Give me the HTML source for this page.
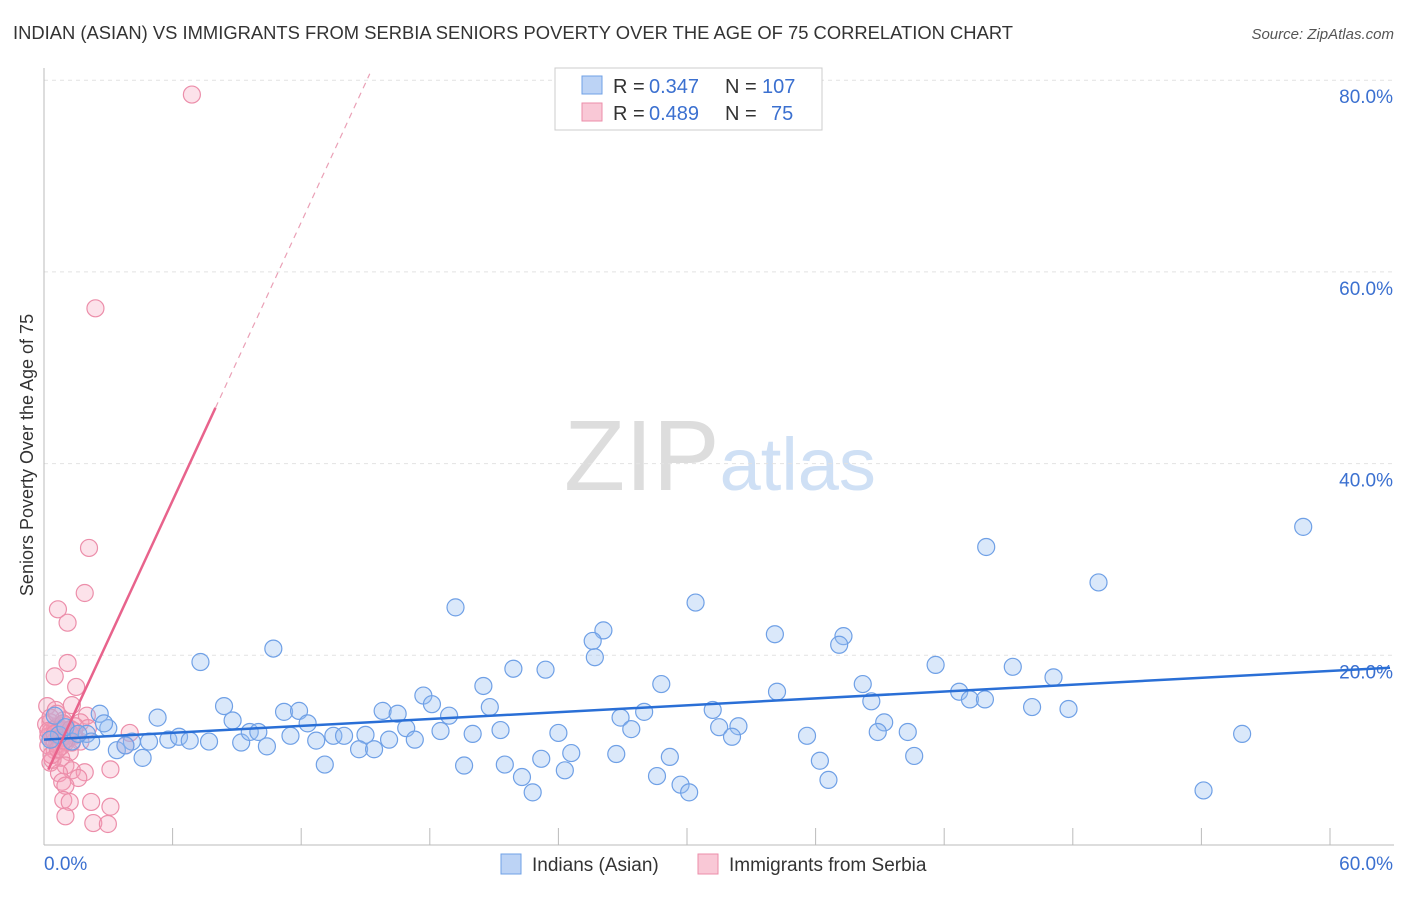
<!DOCTYPE html>
<html><head><meta charset="utf-8"><style>
body{margin:0;background:#fff;font-family:"Liberation Sans",sans-serif;}
svg text{font-family:"Liberation Sans",sans-serif;}
</style></head><body>
<svg id="chart" width="1406" height="892" xmlns="http://www.w3.org/2000/svg">
<text x="13" y="39" font-size="18" fill="#333" textLength="1000" lengthAdjust="spacingAndGlyphs">INDIAN (ASIAN) VS IMMIGRANTS FROM SERBIA SENIORS POVERTY OVER THE AGE OF 75 CORRELATION CHART</text>
<text x="1394" y="39" font-size="15" fill="#555" font-style="italic" text-anchor="end">Source: ZipAtlas.com</text>
<text x="720" y="490" font-size="100" text-anchor="middle" fill="#ddd" font-family="Liberation Serif"><tspan>ZIP</tspan><tspan fill="#cfe0f5" font-family="Liberation Sans" font-size="74">atlas</tspan></text>
<text transform="translate(33,455) rotate(-90)" font-size="18" fill="#333" text-anchor="middle">Seniors Poverty Over the Age of 75</text>
<g id="grid"></g><g id="marks"></g>
<g>
<rect x="555" y="68" width="267" height="62" fill="#fff" stroke="#ccc"/>
<rect x="582" y="76" width="20" height="18" fill="#bcd3f5" stroke="#6fa0e6"/>
<rect x="582" y="103" width="20" height="18" fill="#f9c8d6" stroke="#ec8eaa"/>
<text x="613" y="93" font-size="20" fill="#333">R =</text>
<text x="649" y="93" font-size="20" fill="#3b70d0">0.347</text>
<text x="725" y="93" font-size="20" fill="#333">N =</text>
<text x="762" y="93" font-size="20" fill="#3b70d0">107</text>
<text x="613" y="120" font-size="20" fill="#333">R =</text>
<text x="649" y="120" font-size="20" fill="#3b70d0">0.489</text>
<text x="725" y="120" font-size="20" fill="#333">N =</text>
<text x="771" y="120" font-size="20" fill="#3b70d0">75</text>
</g>
<g>
<rect x="501" y="854" width="20" height="20" fill="#bcd3f5" stroke="#6fa0e6"/>
<text x="532" y="871" font-size="19" fill="#333">Indians (Asian)</text>
<rect x="698" y="854" width="20" height="20" fill="#f9c8d6" stroke="#ec8eaa"/>
<text x="729" y="871" font-size="19" fill="#333">Immigrants from Serbia</text>
</g>
</svg>
<script>
const xTicks=[0,6,12,18,24,30,36,42,48,54,60];
const yTicks=[20,40,60,80];
const blueX=[58.75,43.96,49.2,19.2,30.4,26.1,25.6,25.7,34.1,37.3,37.1,10.7,7.3,21.9,23.4,41.6,45.2,47.1,28.8,20.5,38.2,34.2,42.7,43.2,43.9,38.6,17.7,18.1,46.1,47.8,31.2,20.8,15.8,16.5,11.2,11.9,8.4,2.6,5.3,8.8,12.3,18.9,26.9,28.0,31.5,32.4,39.2,40.3,55.9,20.0,21.3,24.0,27.4,32.1,38.9,35.6,3.0,4.1,4.9,5.8,6.3,6.8,7.7,9.2,9.6,10.0,10.4,11.5,12.7,13.5,14.0,15.0,14.7,15.4,16.1,16.9,17.3,18.5,2.0,2.2,1.3,3.4,3.8,4.6,23.2,24.6,26.7,29.2,36.2,40.6,13.1,19.6,21.5,22.3,24.3,28.6,29.7,30.1,36.6,22.8,54.1,0.7,0.5,1.0,0.3,1.6,2.8];
const blueY=[33.4,31.3,27.6,25.0,25.5,22.6,21.5,19.8,22.2,22.0,21.1,20.7,19.3,18.6,18.5,19.0,18.8,17.7,17.0,16.8,17.0,16.2,16.2,15.4,15.4,15.2,15.8,14.9,14.6,14.4,14.3,14.6,14.2,13.9,14.1,14.2,14.7,13.9,13.5,13.2,12.9,13.7,13.5,14.1,12.5,12.6,13.0,12.0,11.8,11.8,12.2,11.9,12.3,11.5,12.0,11.6,12.4,11.0,11.0,11.2,11.5,11.1,11.0,10.9,12.0,12.0,10.5,11.6,11.1,11.6,11.6,11.7,10.2,10.2,11.2,12.4,11.2,12.1,11.8,11.0,11.0,10.1,10.6,9.3,9.2,9.8,9.7,9.4,9.0,9.5,8.6,8.5,8.6,7.3,8.0,7.4,6.5,5.7,7.0,5.7,5.9,11.7,13.7,12.5,11.2,11.8,12.9];
const pinkX=[6.9,2.4,2.1,1.9,0.65,1.1,1.1,0.5,1.5,0.15,0.55,1.3,2.0,0.9,0.3,1.7,0.75,1.1,0.4,1.4,0.65,1.0,0.2,1.7,0.5,1.2,0.8,0.3,1.0,1.3,0.7,1.9,1.6,0.85,3.1,3.8,4.0,0.4,1.0,0.9,1.2,2.2,3.1,1.0,2.3,2.98,0.1,0.6,1.45,0.5,2.05,0.84,0.3,0.6,0.9,1.2,0.4,0.7,1.0,0.2,0.5,0.8,1.1,1.4,0.3,0.6,0.9,0.2,0.5,0.8,1.3,0.35,0.65,0.95,1.25];
const pinkY=[78.5,56.2,31.2,26.5,24.8,23.4,19.2,17.8,16.7,14.7,14.3,14.8,13.7,13.2,13.0,13.0,12.4,12.2,11.8,11.6,11.2,10.9,10.6,11.0,10.1,9.9,9.3,8.8,8.5,8.0,7.7,7.8,7.2,6.8,8.1,10.6,11.9,9.1,6.4,4.9,4.7,4.7,4.2,3.2,2.5,2.4,12.8,10.7,12.6,12.3,12.4,11.7,12.0,12.5,11.4,11.9,11.3,12.2,12.7,11.5,11.0,10.5,11.3,12.1,13.5,13.9,12.9,12.1,11.8,11.4,10.9,9.6,10.2,11.1,12.3];
const blueTrend=[11.2,0.1195];
const pinkTrend=[7.1,4.84];
const pinkSolidEnd=8.0, pinkDashEnd=15.2;
const X=v=>44+v*(1286/60), Y=v=>847-v*9.585;
const NS="http://www.w3.org/2000/svg";
function mk(tag,attrs,parent){const e=document.createElementNS(NS,tag);for(const k in attrs)e.setAttribute(k,attrs[k]);parent.appendChild(e);return e;}
const grid=document.getElementById('grid'), marks=document.getElementById('marks');
yTicks.forEach(t=>{
  const l=mk('line',{x1:44,x2:1394,y1:Y(t),y2:Y(t),stroke:'#e2e2e2','stroke-dasharray':'4,4'},grid);
  
  
  const tx=mk('text',{x:1393,y:Y(t)+23,'font-size':19,fill:'#3b70d0','text-anchor':'end'},grid);
  tx.textContent=t.toFixed(1)+'%';
  
  
});
const ax=mk('line',{x1:44,x2:1394,y1:845,y2:845,stroke:'#bbb'},grid);


const ay=mk('line',{x1:44,x2:44,y1:68,y2:845,stroke:'#bbb'},grid);


xTicks.forEach((t,i)=>{
  if(i===0)return;
  const l=mk('line',{x1:X(t),x2:X(t),y1:828,y2:845,stroke:'#bbb'},grid);
  
  
});
[[0,'start',44],[60,'end',1393]].forEach(([t,a,x])=>{
  const tx=mk('text',{x:x,y:870,'font-size':19,fill:'#3b70d0','text-anchor':a},grid);
  tx.textContent=t.toFixed(1)+'%';
  
  
});
pinkX.forEach((x,i)=>{
  const c=mk('circle',{cx:X(x),cy:Y(pinkY[i]),r:8.5,fill:'rgba(245,160,185,0.3)',stroke:'#ec8eaa','stroke-width':1.2},marks);
  
  
});
blueX.forEach((x,i)=>{
  const c=mk('circle',{cx:X(x),cy:Y(blueY[i]),r:8.5,fill:'rgba(150,190,240,0.35)',stroke:'#6fa0e6','stroke-width':1.2},marks);
  
  
});
const bt=mk('line',{x1:X(0),y1:Y(blueTrend[0]),x2:X(62.8),y2:Y(blueTrend[0]+blueTrend[1]*62.8),stroke:'#2a6fd6','stroke-width':2.5},marks);


const ps=mk('line',{x1:X(0.2),y1:Y(pinkTrend[0]+pinkTrend[1]*0.2),x2:X(pinkSolidEnd),y2:Y(pinkTrend[0]+pinkTrend[1]*pinkSolidEnd),stroke:'#e8638c','stroke-width':2.5},marks);


const pd=mk('line',{x1:X(pinkSolidEnd),y1:Y(pinkTrend[0]+pinkTrend[1]*pinkSolidEnd),x2:X(pinkDashEnd),y2:Y(pinkTrend[0]+pinkTrend[1]*pinkDashEnd),stroke:'#eaa0b6','stroke-width':1.2,'stroke-dasharray':'6,5'},marks);


</script>
</body></html>
